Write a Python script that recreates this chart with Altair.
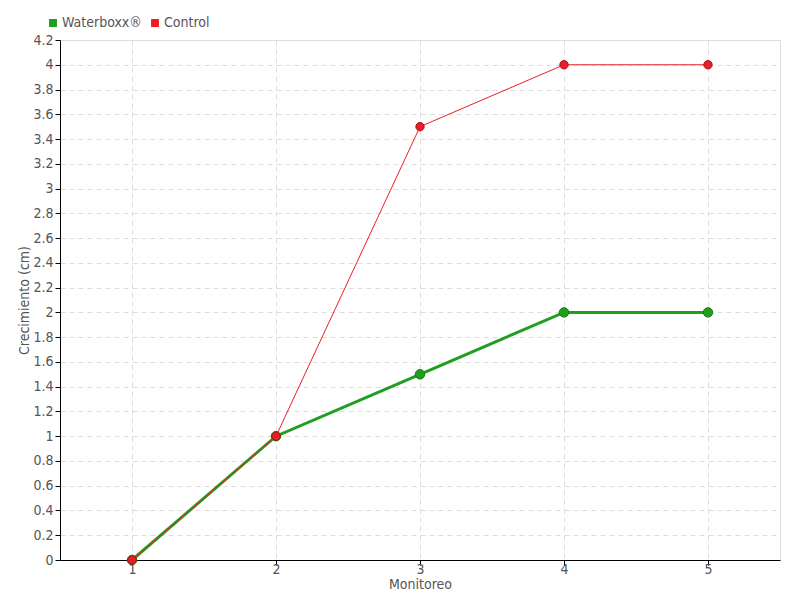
import altair as alt
import pandas as pd

monitoreo = [1, 2, 3, 4, 5]
waterboxx = [0, 1, 1.5, 2, 2]
control = [0, 1, 3.5, 4, 4]
series_names = ["Waterboxx®", "Control"]
series_colors = ["#1f9e1f", "#ee1c25"]
y_ticks = [round(i * 0.2, 1) for i in range(22)]

rows = []
for m, v in zip(monitoreo, waterboxx):
    rows.append({"Monitoreo": str(m), "value": v, "serie": series_names[0], "order": 0})
for m, v in zip(monitoreo, control):
    rows.append({"Monitoreo": str(m), "value": v, "serie": series_names[1], "order": 1})
df = pd.DataFrame(rows)

FONT = "DejaVu Sans Condensed"

x = alt.X("Monitoreo:O", title="Monitoreo",
          scale=alt.Scale(type="point", padding=0.5),
          axis=alt.Axis(labelAngle=0, grid=True, gridDash=[5, 4], gridColor="#dddddd",
                        domainColor="#000000", tickColor="#000000", tickSize=5,
                        labelColor="#555555", labelFontSize=14, labelFont=FONT,
                        titleFont=FONT, titleFontSize=14, titleFontWeight="normal",
                        titleColor="#555555", titlePadding=1, labelPadding=-3))
y = alt.Y("value:Q", title="Crecimiento (cm)",
          scale=alt.Scale(domain=[0, 4.2], nice=False),
          axis=alt.Axis(values=y_ticks, format="~g", grid=True, gridDash=[5, 4],
                        gridColor="#dddddd", domainColor="#000000", tickColor="#000000",
                        tickSize=5, labelColor="#555555", labelFontSize=14, labelFont=FONT,
                        titleFont=FONT, titleFontSize=14, titleFontWeight="normal",
                        titleColor="#555555", titleX=-36, titleY=260, titleBaseline="middle",
                        labelPadding=2))
color = alt.Color("serie:N", scale=alt.Scale(domain=series_names, range=series_colors),
                  legend=alt.Legend(title=None, orient="none", legendX=-14, legendY=-24,
                                    direction="horizontal", symbolType="square",
                                    symbolSize=40, labelFont=FONT, labelFontSize=14,
                                    labelColor="#555555", columnPadding=6, labelOffset=2))

green_line = alt.Chart(df[df.serie == series_names[0]]).mark_line(strokeWidth=3).encode(
    x=x, y=y, color=color)
green_pts = alt.Chart(df[df.serie == series_names[0]]).mark_point(
    filled=True, size=90, opacity=1, stroke="#177a17", strokeWidth=1).encode(x=x, y=y, color=color)
red_line = alt.Chart(df[df.serie == series_names[1]]).mark_line(strokeWidth=1).encode(
    x=x, y=y, color=color)
red_pts = alt.Chart(df[df.serie == series_names[1]]).mark_point(
    filled=True, size=70, opacity=1, stroke="#a0161c", strokeWidth=1).encode(x=x, y=y, color=color)

chart = alt.layer(green_line, green_pts, red_line, red_pts).properties(
    width=720, height=520,
    autosize=alt.AutoSizeParams(type="none"),
    padding={"left": 52, "top": 32, "right": 12, "bottom": 32},
).configure_view(stroke=None).configure(background="white")

chart.save("out.html", embed_options={"renderer": "svg", "actions": False})
